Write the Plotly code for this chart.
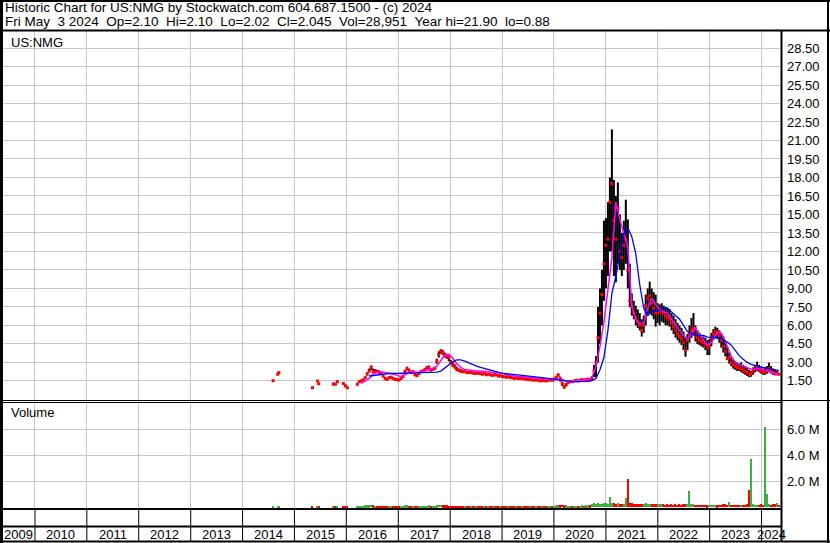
import pandas as pd
import plotly.graph_objects as go

W, H = 830, 543

# fortnightly sessions, 2015-10-02 .. 2024-05-03 (225 of them)
dates = pd.date_range("2015-10-02", periods=225, freq="14D")

close = [
    1.25, 1.23, 1.44, None, None, 1.3, 1.1, 0.95, None, None, None, None, 1.23,
    1.44, 1.5, 1.57, 1.76, 2.05, 2.3, 2.6, 2.25, 2.3, 2.25, 2.2, 2.12, 1.9,
    1.7, 1.63, 1.76, 1.8, 1.7, 1.63, 1.6, 1.57, 1.7, 1.84, 2.25, 2.5, 2.35,
    2.2, 2.25, 2.0, 1.92, 2.1, 2.25, 2.3, 2.4, 2.55, 2.6, 2.38, 2.45, 2.5,
    3.1, 3.6, 3.9, 3.8, 3.6, 3.5, 3.4, 3.0, 2.8, 2.65, 2.45, 2.38, 2.3,
    2.25, 2.3, 2.2, 2.17, 2.2, 2.15, 2.1, 2.15, 2.12, 2.1, 2.05, 2.1, 2.0,
    2.06, 2.0, 1.95, 2.0, 1.98, 1.9, 1.92, 1.85, 1.84, 1.8, 1.85, 1.78, 1.75,
    1.71, 1.75, 1.7, 1.68, 1.72, 1.66, 1.65, 1.6, 1.62, 1.58, 1.57, 1.6, 1.55,
    1.5, 1.55, 1.52, 1.5, 1.55, 1.6, 1.55, 1.65, 1.8, 1.98, 1.7, 1.3, 1.0,
    1.2, 1.35, 1.45, 1.44, 1.5, 1.55, 1.5, 1.57, 1.6, 1.55, 1.6, 1.63, 1.6,
    1.65, 2.3, 3.0, 5.0, 7.0, 8.5, 11.0, 12.5, 13.0, 16.0, 17.5, 14.5, 13.0,
    15.5, 12.0, 11.5, 12.5, 13.0, 10.5, 8.0, 7.5, 7.0, 6.6, 6.3, 6.0, 5.6,
    6.0, 7.6, 8.2, 8.4, 7.8, 7.4, 7.0, 7.0, 7.1, 7.3, 7.0, 6.8, 6.6,
    6.5, 6.2, 5.9, 5.6, 5.3, 5.1, 4.9, 4.6, 4.0, 4.8, 5.3, 5.6, 5.8,
    5.2, 5.0, 4.8, 4.7, 4.6, 4.5, 4.2, 4.4, 5.0, 5.3, 5.5, 5.4, 5.2,
    4.8, 4.3, 3.9, 3.3, 3.4, 3.0, 2.8, 2.7, 2.6, 2.5, 2.5, 2.4, 2.3,
    2.2, 2.0, 2.1, 2.3, 2.5, 2.6, 2.4, 2.3, 2.2, 2.2, 2.4, 2.5, 2.3,
    2.2, 2.1, 2.1, 2.045,
]
high = [
    1.35, 1.3, 1.5, None, None, 1.35, 1.2, 1.0, None, None, None, None, 1.3,
    1.5, 1.6, 1.65, 1.85, 2.2, 2.5, 2.75, 2.5, 2.45, 2.4, 2.35, 2.25, 2.0,
    1.8, 1.7, 1.85, 1.9, 1.8, 1.7, 1.7, 1.65, 1.8, 2.0, 2.4, 2.65, 2.5,
    2.3, 2.35, 2.1, 2.05, 2.2, 2.35, 2.4, 2.5, 2.7, 2.75, 2.5, 2.55, 2.6,
    3.3, 3.9, 4.07, 4.0, 3.8, 3.7, 3.55, 3.2, 3.0, 2.85, 2.65, 2.5, 2.45,
    2.4, 2.4, 2.3, 2.3, 2.3, 2.25, 2.2, 2.25, 2.2, 2.2, 2.15, 2.2, 2.1,
    2.15, 2.1, 2.05, 2.1, 2.05, 2.0, 2.0, 1.95, 1.92, 1.9, 1.95, 1.85, 1.82,
    1.8, 1.82, 1.78, 1.76, 1.8, 1.74, 1.72, 1.68, 1.7, 1.65, 1.64, 1.68, 1.62,
    1.57, 1.62, 1.6, 1.57, 1.62, 1.68, 1.62, 1.75, 1.9, 2.1, 1.85, 1.45, 1.15,
    1.3, 1.45, 1.52, 1.52, 1.58, 1.62, 1.58, 1.65, 1.68, 1.62, 1.68, 1.72, 1.7,
    1.9, 2.8, 3.5, 7.5, 9.0, 10.5, 14.5, 14.7, 16.0, 18.0, 21.9, 17.8, 16.5,
    17.6, 15.0, 13.5, 14.5, 16.2, 14.6, 11.0, 8.6, 8.0, 7.6, 7.3, 7.0, 6.5,
    6.8, 8.5, 9.0, 9.55, 9.0, 8.7, 8.5, 7.8, 7.7, 7.8, 7.6, 7.5, 7.4,
    7.3, 7.0, 6.8, 6.5, 6.2, 6.0, 5.8, 5.5, 5.0, 5.3, 6.0, 6.6, 7.0,
    6.0, 5.6, 5.4, 5.2, 5.1, 5.0, 4.8, 4.9, 5.4, 5.7, 5.9, 5.8, 5.6,
    5.4, 5.1, 4.7, 4.3, 3.8, 3.4, 3.2, 3.1, 3.0, 2.9, 3.0, 2.8, 2.7,
    2.6, 2.4, 2.3, 2.6, 2.8, 3.06, 2.8, 2.6, 2.5, 2.6, 2.7, 2.98, 2.7,
    2.5, 2.4, 2.3, 2.1,
]
low = [
    1.15, 1.2, 1.4, None, None, 1.25, 1.05, 0.9, None, None, None, None, 1.2,
    1.4, 1.45, 1.5, 1.7, 1.95, 2.2, 2.4, 2.15, 2.2, 2.15, 2.1, 2.0, 1.8,
    1.65, 1.55, 1.7, 1.75, 1.65, 1.55, 1.55, 1.5, 1.6, 1.75, 2.1, 2.4, 2.25,
    2.1, 2.15, 1.9, 1.85, 2.0, 2.15, 2.2, 2.3, 2.45, 2.45, 2.3, 2.35, 2.4,
    2.9, 3.4, 3.7, 3.6, 3.4, 3.3, 3.1, 2.85, 2.65, 2.5, 2.3, 2.25, 2.2,
    2.15, 2.2, 2.1, 2.1, 2.1, 2.05, 2.0, 2.05, 2.05, 2.0, 1.95, 2.0, 1.9,
    1.95, 1.9, 1.88, 1.92, 1.9, 1.82, 1.85, 1.78, 1.76, 1.72, 1.78, 1.7, 1.68,
    1.64, 1.68, 1.62, 1.6, 1.64, 1.58, 1.57, 1.52, 1.55, 1.5, 1.5, 1.52, 1.48,
    1.43, 1.48, 1.45, 1.43, 1.48, 1.52, 1.48, 1.58, 1.7, 1.85, 1.45, 1.1, 0.88,
    1.05, 1.25, 1.38, 1.38, 1.44, 1.48, 1.44, 1.5, 1.52, 1.48, 1.52, 1.55, 1.52,
    1.55, 1.8, 1.8, 3.0, 4.5, 6.0, 8.0, 9.0, 10.0, 12.0, 12.0, 10.0, 9.5,
    11.0, 10.5, 10.0, 10.5, 11.0, 9.0, 7.5, 6.8, 6.5, 6.0, 5.8, 5.6, 5.1,
    5.4, 6.0, 6.8, 7.0, 6.8, 6.5, 5.9, 6.2, 6.0, 6.3, 6.2, 6.0, 6.0,
    5.9, 5.6, 5.3, 5.0, 4.8, 4.6, 4.4, 4.0, 3.46, 4.0, 4.6, 5.0, 5.2,
    4.7, 4.5, 4.4, 4.3, 4.2, 4.0, 3.6, 3.6, 4.3, 4.8, 5.0, 4.9, 4.6,
    4.2, 3.8, 3.5, 3.2, 2.9, 2.7, 2.5, 2.4, 2.3, 2.3, 2.2, 2.1, 2.0,
    1.9, 1.8, 1.84, 2.0, 2.2, 2.3, 2.2, 2.1, 2.0, 2.0, 2.1, 2.2, 2.1,
    2.0, 1.95, 1.95, 2.02,
]
volume_k = [
    100, 80, 90, 0, 0, 90, 80, 100, 0, 0, 0, 0, 90,
    100, 110, 120, 130, 140, 150, 160, 130, 120, 110, 100, 110, 100,
    90, 100, 110, 90, 100, 90, 100, 90, 110, 120, 140, 130, 110,
    100, 110, 90, 100, 110, 100, 120, 110, 120, 130, 110, 100, 120,
    150, 160, 170, 150, 140, 130, 120, 110, 120, 110, 100, 110, 100,
    90, 100, 90, 100, 90, 100, 90, 100, 90, 100, 90, 100, 90,
    100, 90, 100, 110, 90, 100, 110, 100, 90, 100, 110, 100, 90,
    100, 110, 90, 100, 110, 100, 90, 100, 110, 100, 90, 100, 110,
    100, 110, 100, 90, 100, 110, 120, 110, 130, 150, 140, 160, 150,
    130, 120, 110, 120, 110, 120, 110, 120, 130, 120, 140, 130, 150,
    200, 300, 250, 280, 260, 200, 350, 300, 250, 800, 300, 280, 250,
    300, 250, 200, 220, 670, 2170, 300, 280, 250, 220, 200, 230, 210,
    250, 300, 260, 240, 220, 250, 200, 230, 210, 200, 220, 190, 200,
    180, 200, 190, 210, 180, 200, 190, 250, 220, 200, 1240, 230, 200,
    180, 170, 160, 180, 170, 160, 150, 170, 180, 160, 170, 150, 160,
    180, 220, 200, 190, 400, 180, 170, 160, 170, 180, 160, 170, 180,
    200, 1300, 3700, 200, 180, 170, 190, 200, 180, 6200, 1000, 200, 180,
    200, 250, 300, 180,
]

# scattered trades before the regular series
early_dates = ["2014-08-04", "2014-09-05", "2014-09-13", "2015-05-08", "2015-06-13", "2015-06-21"]
early_close = [1.52, 2.04, 2.17, 0.95, 1.49, 1.27]
early_volume_k = [80, 90, 90, 80, 90, 80]

# moving averages, every second session
ma_short = [
    1.3, 1.5, 1.7, 2.05, 2.2, 2.25, 2.2, 2.1, 2.06, 1.95, 1.85, 2.0, 2.2,
    2.25, 2.2, 2.22, 2.3, 2.4, 2.5, 2.7, 3.2, 3.6, 3.65, 3.35, 2.9, 2.6,
    2.42, 2.36, 2.3, 2.3, 2.3, 2.3, 2.25, 2.2, 2.18, 2.15, 2.05, 1.98, 1.93,
    1.88, 1.85, 1.82, 1.78, 1.74, 1.72, 1.7, 1.65, 1.6, 1.58, 1.6, 1.7, 1.55,
    1.4, 1.48, 1.52, 1.55, 1.57, 1.6, 1.8, 2.7, 4.3, 6.3, 8.9, 11.5, 16.0,
    14.6, 13.5, 12.4, 7.6, 6.5, 6.1, 6.2, 7.4, 8.2, 7.7, 7.3, 7.1, 7.0,
    6.5, 6.0, 5.6, 5.2, 4.9, 5.3, 5.8, 5.3, 4.8, 4.4, 4.6, 5.2, 5.5,
    5.1, 4.3, 3.5, 3.0, 2.8, 2.7, 2.6, 2.45, 2.45, 2.5, 2.4, 2.3, 2.25,
    2.1, 2.0,
]
ma_long = [
    1.9, 1.95, 2.0, 2.05, 2.1, 2.1, 2.1, 2.1, 2.1, 2.1, 2.12, 2.14, 2.15,
    2.17, 2.18, 2.2, 2.2, 2.22, 2.3, 2.55, 2.8, 3.05, 3.2, 3.2, 3.1, 2.95,
    2.8, 2.7, 2.6, 2.5, 2.42, 2.35, 2.25, 2.15, 2.1, 2.08, 2.05, 2.0, 1.97,
    1.93, 1.88, 1.84, 1.8, 1.77, 1.74, 1.7, 1.65, 1.6, 1.56, 1.52, 1.48, 1.45,
    1.44, 1.44, 1.44, 1.46, 1.52, 1.7, 2.4, 3.4, 5.6, 8.6, 10.0, 11.8, 13.4,
    13.9, 13.2, 11.8, 9.3, 7.4, 6.8, 7.1, 7.15, 7.2, 7.4, 7.4, 7.1, 6.8,
    6.5, 6.0, 5.5, 5.3, 5.2, 5.2, 5.2, 5.05, 5.0, 5.0, 5.0, 4.85, 4.65,
    4.4, 4.0, 3.55, 3.25, 3.0, 2.85, 2.72, 2.65, 2.6, 2.52, 2.45, 2.38, 2.33,
]

price_ticks = [1.5, 3, 4.5, 6, 7.5, 9, 10.5, 12, 13.5, 15, 16.5, 18, 19.5, 21, 22.5, 24, 25.5, 27, 28.5]
volume_ticks = [2, 4, 6]
years = list(range(2009, 2025))
x_range = ["2009-05-21", "2024-05-17"]

header1 = "Historic Chart for US:NMG by Stockwatch.com 604.687.1500 - (c) 2024"
header2 = "Fri May  3 2024  Op=2.10  Hi=2.10  Lo=2.02  Cl=2.045  Vol=28,951  Year hi=21.90  lo=0.88"

GREEN = "#3cb043"
RED = "#ff0000"
GRID = "#c8c8c8"
FONT = "Arial, Liberation Sans, sans-serif"


def px_x(x):
    return x / W


def px_y(y):
    return 1 - y / H


def up_down(values):
    cols, prev = [], None
    for v in values:
        if v is None:
            cols.append(GREEN)
            continue
        cols.append(GREEN if prev is None or v >= prev else RED)
        prev = v
    return cols


bar_x, bar_y = [], []
for d, h, l in zip(dates, high, low):
    if h is None:
        continue
    bar_x += [d, d, None]
    bar_y += [l, h, None]

fig = go.Figure()

fig.add_trace(go.Scatter(x=bar_x, y=bar_y, mode="lines",
                         line=dict(color="black", width=2), connectgaps=False))
fig.add_trace(go.Scatter(x=list(early_dates) + list(dates), y=early_close + close, mode="markers",
                         marker=dict(color=RED, size=3, symbol="square", line_width=0)))
fig.add_trace(go.Scatter(x=dates[14::2], y=ma_short, mode="lines",
                         line=dict(color="#ff00ff", width=1.5)))
fig.add_trace(go.Scatter(x=dates[18::2], y=ma_long, mode="lines",
                         line=dict(color="#0000ff", width=1.3)))

vol_x = list(pd.to_datetime(early_dates)) + list(dates)
vol_m = [v / 1000 for v in early_volume_k + volume_k]
vol_c = up_down(early_close) + up_down(close)
fig.add_trace(go.Bar(x=vol_x, y=vol_m, marker=dict(color=vol_c, line_width=0),
                     width=9 * 86400000, xaxis="x2", yaxis="y2"))

axis_common = dict(type="date", range=x_range, dtick="M12", tick0="2010-01-01",
                   showgrid=True, gridcolor=GRID, gridwidth=1, showticklabels=False,
                   ticks="", zeroline=False, showline=False, domain=[px_x(3), px_x(781)])

fig.update_layout(
    width=W, height=H, margin=dict(l=0, r=0, t=0, b=0),
    paper_bgcolor="white", plot_bgcolor="white", showlegend=False,
    font=dict(family=FONT, size=13, color="black"),
    bargap=0,
    xaxis=dict(**axis_common, anchor="y"),
    xaxis2=dict(**axis_common, anchor="y2", matches="x"),
    yaxis=dict(domain=[px_y(402), px_y(31)], range=[-0.21, 29.88], side="right",
               tickvals=price_ticks, ticktext=[f"{v:.2f}" for v in price_ticks],
               showgrid=True, gridcolor=GRID, zeroline=False, ticks="",
               ticklabelstandoff=5, anchor="x"),
    yaxis2=dict(domain=[px_y(509), px_y(404)], range=[-0.15, 7.98], side="right",
                tickvals=volume_ticks, ticktext=[f"{v:.1f} M" for v in volume_ticks],
                showgrid=True, gridcolor=GRID, zeroline=False, ticks="",
                ticklabelstandoff=5, anchor="x2"),
)


def hline(y, x0, x1, w):
    return dict(type="line", xref="paper", yref="paper", x0=px_x(x0), x1=px_x(x1),
                y0=px_y(y), y1=px_y(y), line=dict(color="black", width=w))


def vline(x, y0, y1, w):
    return dict(type="line", xref="paper", yref="paper", x0=px_x(x), x1=px_x(x),
                y0=px_y(y0), y1=px_y(y1), line=dict(color="black", width=w))


shapes = [
    vline(1.5, 0, 543, 3), vline(828, 0, 543, 2),
    hline(1, 0, 830, 2), hline(541.5, 0, 830, 2),
    hline(30.5, 0, 830, 2),
    vline(781.5, 31, 542, 2),
    hline(400.5, 0, 830, 1), hline(402.5, 0, 781, 1),
    hline(509, 0, 781, 2), hline(526.5, 0, 781, 2),
]
for yr in years[1:]:
    shapes.append(dict(type="line", xref="x", yref="paper", x0=f"{yr}-01-01", x1=f"{yr}-01-01",
                       y0=px_y(541), y1=px_y(509), line=dict(color="black", width=1)))
fig.update_layout(shapes=shapes)

annotations = [
    dict(text=header1, x=px_x(3), y=px_y(7.5), font=dict(size=13.5)),
    dict(text=header2.replace("  ", "\u00a0\u00a0"), x=px_x(3), y=px_y(21.5), font=dict(size=13.5)),
    dict(text="US:NMG", x=px_x(8.5), y=px_y(42)),
    dict(text="Volume", x=px_x(9), y=px_y(413)),
]
for a in annotations:
    a.update(xref="paper", yref="paper", xanchor="left", yanchor="middle", showarrow=False)

x0, x1 = pd.Timestamp(x_range[0]), pd.Timestamp(x_range[1])
for yr in years:
    lo_d = max(pd.Timestamp(f"{yr}-01-01"), x0)
    hi_d = min(pd.Timestamp(f"{yr + 1}-01-01"), x1)
    annotations.append(dict(text=str(yr), x=lo_d + (hi_d - lo_d) / 2, xref="x",
                            y=px_y(534), yref="paper", xanchor="center", yanchor="middle",
                            showarrow=False))
fig.update_layout(annotations=annotations)

# the page's default body margin would push the figure off the 830x543 window
fig.write_html("out.html", config={"displayModeBar": False},
               post_script="document.body.style.margin='0';document.body.style.overflow='hidden';")
